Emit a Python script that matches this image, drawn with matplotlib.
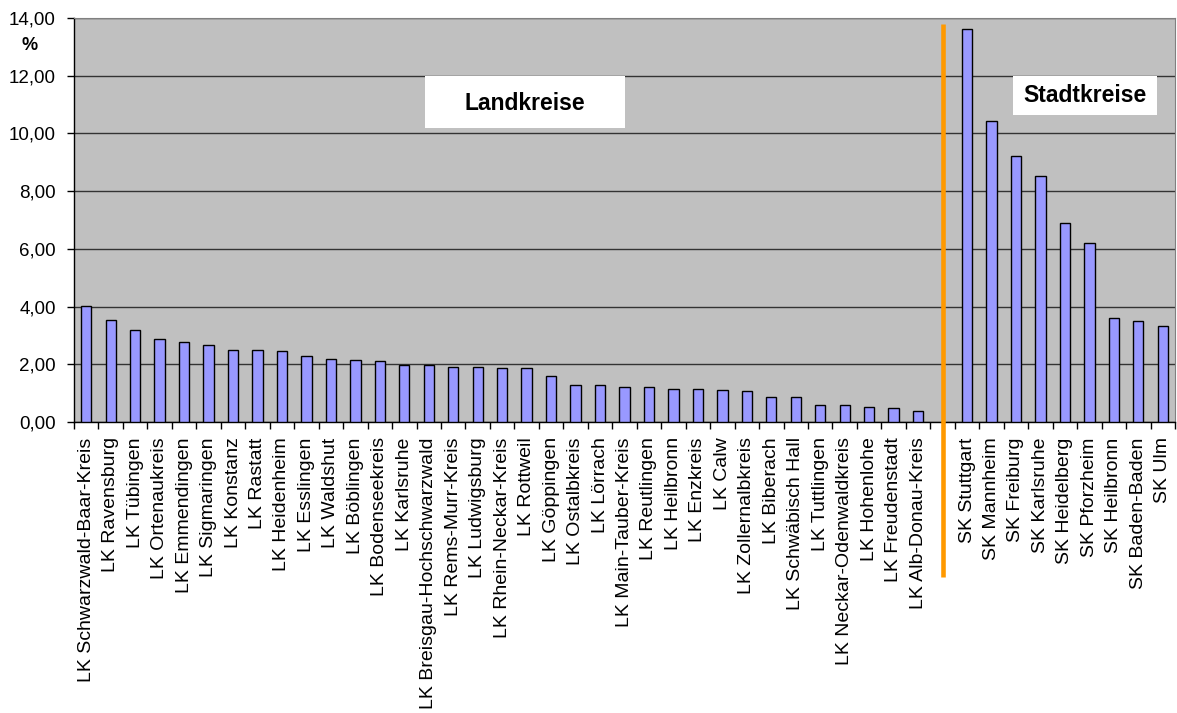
import matplotlib
matplotlib.use("Agg")
import matplotlib.pyplot as plt
from matplotlib.patches import Rectangle

plt.rcParams['font.family'] = ['Liberation Sans', 'DejaVu Sans']

landkreise = ["LK Schwarzwald-Baar-Kreis", "LK Ravensburg", "LK Tübingen", "LK Ortenaukreis",
              "LK Emmendingen", "LK Sigmaringen", "LK Konstanz", "LK Rastatt", "LK Heidenheim",
              "LK Esslingen", "LK Waldshut", "LK Böblingen", "LK Bodenseekreis", "LK Karlsruhe",
              "LK Breisgau-Hochschwarzwald", "LK Rems-Murr-Kreis", "LK Ludwigsburg",
              "LK Rhein-Neckar-Kreis", "LK Rottweil", "LK Göppingen", "LK Ostalbkreis", "LK Lörrach",
              "LK Main-Tauber-Kreis", "LK Reutlingen", "LK Heilbronn", "LK Enzkreis", "LK Calw",
              "LK Zollernalbkreis", "LK Biberach", "LK Schwäbisch Hall", "LK Tuttlingen",
              "LK Neckar-Odenwaldkreis", "LK Hohenlohe", "LK Freudenstadt", "LK Alb-Donau-Kreis"]
lk_values = [4.02, 3.53, 3.19, 2.86, 2.76, 2.66, 2.51, 2.51, 2.45, 2.27, 2.17, 2.15, 2.10, 1.98,
             1.98, 1.91, 1.91, 1.88, 1.88, 1.60, 1.28, 1.28, 1.23, 1.20, 1.14, 1.14, 1.10, 1.06,
             0.87, 0.86, 0.58, 0.58, 0.51, 0.50, 0.37]
stadtkreise = ["SK Stuttgart", "SK Mannheim", "SK Freiburg", "SK Karlsruhe", "SK Heidelberg",
               "SK Pforzheim", "SK Heilbronn", "SK Baden-Baden", "SK Ulm"]
sk_values = [13.61, 10.43, 9.21, 8.52, 6.88, 6.21, 3.61, 3.50, 3.33]
y_ticks = [0, 2, 4, 6, 8, 10, 12, 14]

labels = landkreise + [""] + stadtkreise
n_lk = len(landkreise)
x_lk = list(range(n_lk))
x_sk = list(range(n_lk + 1, n_lk + 1 + len(stadtkreise)))
sep_x = n_lk

W, H = 1177, 713
fig = plt.figure(figsize=(W / 100, H / 100), dpi=100)
ax = fig.add_axes([74 / W, 1 - 422 / H, (1175 - 74) / W, (422 - 18) / H])
ax.set_facecolor('#C0C0C0')

bar_kw = dict(width=0.42, color='#9999FF', edgecolor='#000000', linewidth=1.0, zorder=3)
ax.bar(x_lk, lk_values, **bar_kw)
ax.bar(x_sk, sk_values, **bar_kw)

ax.set_xlim(-0.5, len(labels) - 0.5)
ax.set_ylim(0, 14)
ax.set_yticks(y_ticks)
ax.set_yticklabels([f"{v:.2f}".replace('.', ',') for v in y_ticks], fontsize=13.5)
ax.yaxis.grid(True, color='#333333', linewidth=1.0, zorder=1)
ax.set_axisbelow(True)

ax.set_xticks(range(len(labels)))
ax.set_xticklabels(labels, rotation=90, fontsize=14, va='top', ha='center')
ax.set_xticks([i - 0.5 for i in range(len(labels) + 1)], minor=True)
ax.tick_params(axis='x', which='major', length=0, pad=11)
ax.tick_params(axis='x', which='minor', length=5, width=1, color='black', direction='out')
ax.tick_params(axis='y', length=5, width=1, color='black', direction='out', pad=8)

for s in ['top', 'right']:
    ax.spines[s].set_color('#808080')
for s in ['left', 'bottom']:
    ax.spines[s].set_color('black')
    ax.spines[s].set_linewidth(1.0)

# orange separator
ax.plot([sep_x, sep_x], [13.79, -5.37], color='#FF9900', linewidth=3.3, clip_on=False, zorder=5,
        solid_capstyle='butt')

# label boxes (figure pixel coords)
def fig_box(x0, y0, x1, y1):
    fig.patches.append(Rectangle((x0 / W, 1 - y1 / H), (x1 - x0) / W, (y1 - y0) / H,
                                 transform=fig.transFigure, facecolor='white',
                                 edgecolor='none', zorder=10))

fig_box(425, 76, 625, 128)
fig.text(525 / W, 1 - 103 / H, "Landkreise", fontsize=16.5, fontweight='bold',
         ha='center', va='center', zorder=11)
fig_box(1013, 76, 1157, 115)
fig.text(1085 / W, 1 - 95 / H, "Stadtkreise", fontsize=16.5, fontweight='bold',
         ha='center', va='center', zorder=11)

fig.text(29.5 / W, 1 - 46 / H, "%", fontsize=13, fontweight='bold', ha='center', va='center')

fig.savefig("out.png", dpi=100)
